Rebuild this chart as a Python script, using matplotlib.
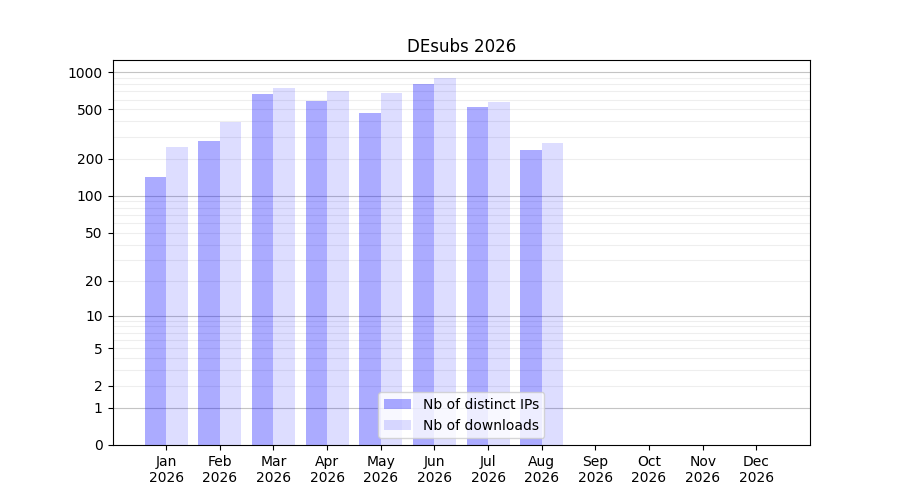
import numpy as np
import matplotlib
matplotlib.use('Agg')
import matplotlib.pyplot as plt

months = ['Jan', 'Feb', 'Mar', 'Apr', 'May', 'Jun', 'Jul', 'Aug', 'Sep', 'Oct', 'Nov', 'Dec']
year = '2026'
ips = [143, 278, 666, 585, 468, 801, 523, 235, 0, 0, 0, 0]
downloads = [249, 396, 744, 704, 678, 896, 574, 268, 0, 0, 0, 0]
yticks = [0, 1, 2, 5, 10, 20, 50, 100, 200, 500, 1000]

def fwd(x):
    return np.log10(1 + np.clip(x, 0, None))

def inv(y):
    return 10 ** y - 1

fig, ax = plt.subplots(figsize=(9, 5), dpi=100)
x = np.arange(1, len(months) + 1)

ax.set_yscale('function', functions=(fwd, inv))

# grid lines: light on 2..9 multiples, darker on decades
for d in [1, 10, 100]:
    for m in range(2, 10):
        ax.axhline(m * d, color='#eeeeee', lw=0.8, zorder=0)
for d in [1, 10, 100, 1000]:
    ax.axhline(d, color='#c4c4c4', lw=0.8, zorder=0)

ax.bar(x, ips, width=-0.4, align='edge', color='blue', alpha=0.33, lw=0, label='Nb of distinct IPs', zorder=1)
ax.bar(x, downloads, width=0.4, align='edge', color='blue', alpha=0.135, lw=0, label='Nb of downloads', zorder=1)

ax.set_yticks(yticks)
ax.set_yticklabels([str(t) for t in yticks])
ax.yaxis.set_minor_locator(matplotlib.ticker.NullLocator())
ax.set_ylim(0, 1250)
ax.set_xlim(0, 13)
ax.set_xticks(x)
ax.set_xticklabels([m + '\n' + year for m in months])
ax.set_title('DEsubs ' + year)
ax.legend(loc='lower center')

fig.savefig('out.png')
